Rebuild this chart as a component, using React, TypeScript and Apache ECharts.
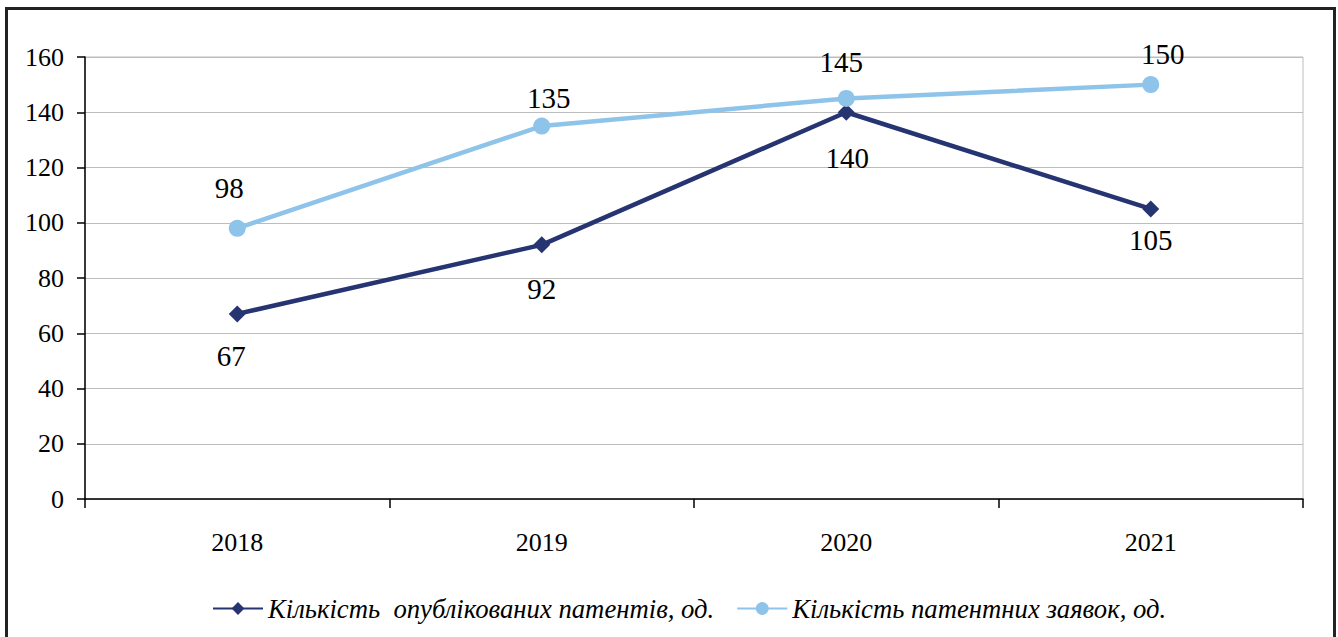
import React, { useEffect, useRef } from "react";
import * as echarts from "echarts";

const years = ["2018", "2019", "2020", "2021"];
const publishedPatents = [67, 92, 140, 105];
const patentApplications = [98, 135, 145, 150];
const seriesNames = [
  "Кількість  опублікованих патентів, од.",
  "Кількість патентних заявок, од.",
];
// label offsets (style only) relative to each point, as in the reference
const publishedLabelOffsets = [[-6, 42], [0, 44], [1, 46], [0, 31]];
const applicationLabelOffsets = [[-8, -40], [7, -28], [-5, -36], [12, -31]];

const FONT = "Liberation Serif";

export default function App() {
  const ref = useRef<HTMLDivElement>(null);
  useEffect(() => {
    document.body.style.margin = "0";
    const chart = echarts.init(ref.current!, null, { renderer: "svg" });
    const labelBase = {
      show: true,
      position: "inside",
      fontFamily: FONT,
      fontSize: 29,
      color: "#000",
    };
    chart.setOption({
      animation: false,
      backgroundColor: "#ffffff",
      textStyle: { fontFamily: FONT },
      graphic: [
        {
          type: "rect",
          shape: { x: 6.5, y: 8.5, width: 1328, height: 640 },
          style: { fill: "none", stroke: "#222222", lineWidth: 3 },
          silent: true,
        },
      ],
      grid: {
        left: 85,
        right: 35,
        top: 57,
        bottom: 138,
        show: true,
        borderColor: "#bdbdbd",
        borderWidth: 1,
      },
      legend: {
        left: 207,
        top: 590,
        itemWidth: 50,
        itemHeight: 16,
        itemGap: 22,
        textStyle: {
          fontFamily: FONT,
          fontStyle: "italic",
          fontSize: 26.7,
          color: "#000",
        },
        data: seriesNames,
      },
      xAxis: {
        type: "category",
        data: years,
        boundaryGap: true,
        axisLine: { lineStyle: { color: "#000", width: 1.5 } },
        axisTick: { show: true, length: 9, lineStyle: { color: "#000", width: 1.5 } },
        axisLabel: { fontFamily: FONT, fontSize: 26, color: "#000", margin: 30 },
        splitLine: { show: false },
      },
      yAxis: {
        type: "value",
        min: 0,
        max: 160,
        interval: 20,
        axisLine: { show: true, lineStyle: { color: "#000", width: 1.5 } },
        axisTick: { show: true, length: 8, lineStyle: { color: "#000", width: 1.5 } },
        axisLabel: { fontFamily: FONT, fontSize: 26, color: "#000", margin: 21 },
        splitLine: { lineStyle: { color: "#bdbdbd", width: 1 } },
      },
      series: [
        {
          name: seriesNames[0],
          type: "line",
          data: publishedPatents.map((v, i) => ({
            value: v,
            label: { ...labelBase, offset: publishedLabelOffsets[i] },
          })),
          symbol: "diamond",
          symbolSize: [17, 17],
          color: "#263472",
          lineStyle: { width: 4.5, color: "#263472" },
          itemStyle: { color: "#263472" },
          label: labelBase,
          z: 2,
        },
        {
          name: seriesNames[1],
          type: "line",
          data: patentApplications.map((v, i) => ({
            value: v,
            label: { ...labelBase, offset: applicationLabelOffsets[i] },
          })),
          symbol: "circle",
          symbolSize: 17,
          color: "#8ec3ea",
          lineStyle: { width: 4.5, color: "#8ec3ea" },
          itemStyle: { color: "#8ec3ea" },
          label: labelBase,
          z: 3,
        },
      ],
    });
    return () => chart.dispose();
  }, []);
  return (
    <div
      ref={ref}
      style={{ position: "absolute", left: 0, top: 0, width: 1338, height: 637 }}
    />
  );
}
